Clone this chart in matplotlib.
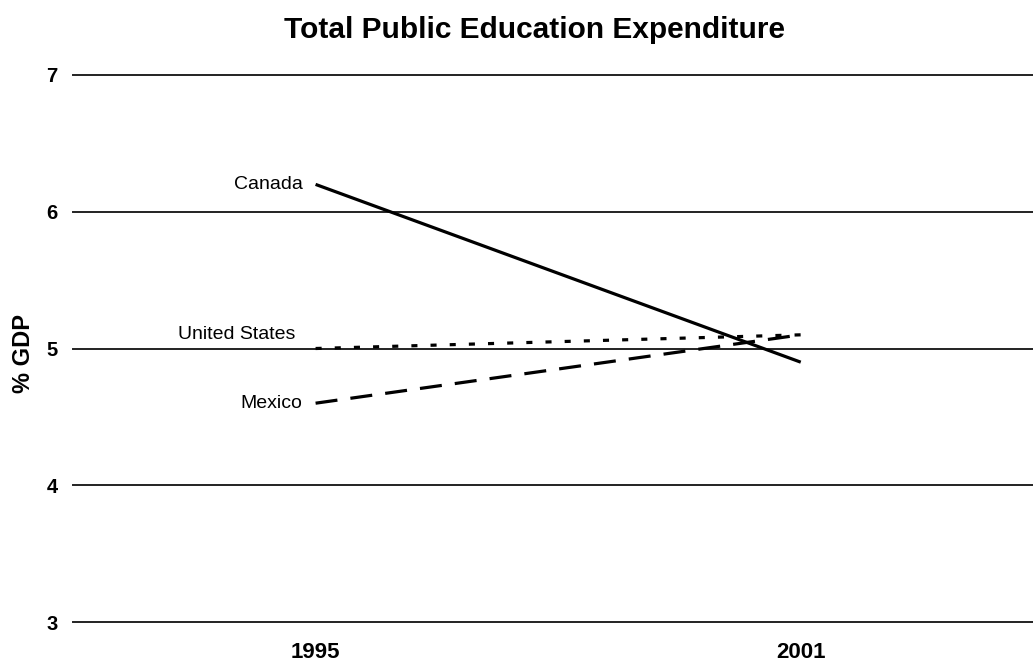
import matplotlib
matplotlib.use("Agg")
import matplotlib.pyplot as plt

plt.rcParams['font.family'] = ['Liberation Sans', 'DejaVu Sans']

years = ["1995", "2001"]
canada = [6.2, 4.9]
united_states = [5.0, 5.1]
mexico = [4.6, 5.1]
yticks = [3, 4, 5, 6, 7]

fig = plt.figure(figsize=(10.33, 6.65), dpi=100)
ax = fig.add_axes([73/1033, 1-622/665, 1-73/1033 + 0.01, (622-75)/665])

x = list(range(len(years)))
lw = 2.3
ax.plot(x, canada, color='black', lw=lw, solid_capstyle='butt', zorder=3)
ax.plot(x, united_states, color='black', lw=lw, linestyle=(0, (1.9, 4.1)), zorder=3)
ax.plot(x, mexico, color='black', lw=lw, linestyle=(0, (6.9, 4.1)), zorder=3)

ax.annotate("Canada", (x[0], canada[0]), xytext=(-9.5, 0), textcoords='offset points',
            ha='right', va='center', fontsize=14)
ax.annotate("United States", (x[0], united_states[0]), xytext=(-14.5, 10), textcoords='offset points',
            ha='right', va='center', fontsize=14)
ax.annotate("Mexico", (x[0], mexico[0]), xytext=(-9.5, 0), textcoords='offset points',
            ha='right', va='center', fontsize=14)

ax.set_xlim(-0.5, 1.5)
ax.set_ylim(3, 7)
ax.set_yticks(yticks)
ax.set_yticklabels([str(t) for t in yticks], fontweight='bold', fontsize=14.5)
ax.set_xticks(x)
ax.set_xticklabels(years, fontweight='bold', fontsize=16)
ax.tick_params(axis='y', length=0, pad=11)
ax.tick_params(axis='x', length=0, pad=14.5)
for s in ax.spines.values():
    s.set_visible(False)
for t in yticks:
    ax.axhline(t, color='#222222', lw=1.4, zorder=1, clip_on=False)

fig.text(23.5/1033, 1-353/665, "% GDP", rotation=90, ha='center', va='center',
         fontweight='bold', fontsize=17)
fig.text(535/1033, 1-38/665, "Total Public Education Expenditure", ha='center', va='baseline',
         fontweight='bold', fontsize=21.5)

fig.savefig("out.png", dpi=100)
